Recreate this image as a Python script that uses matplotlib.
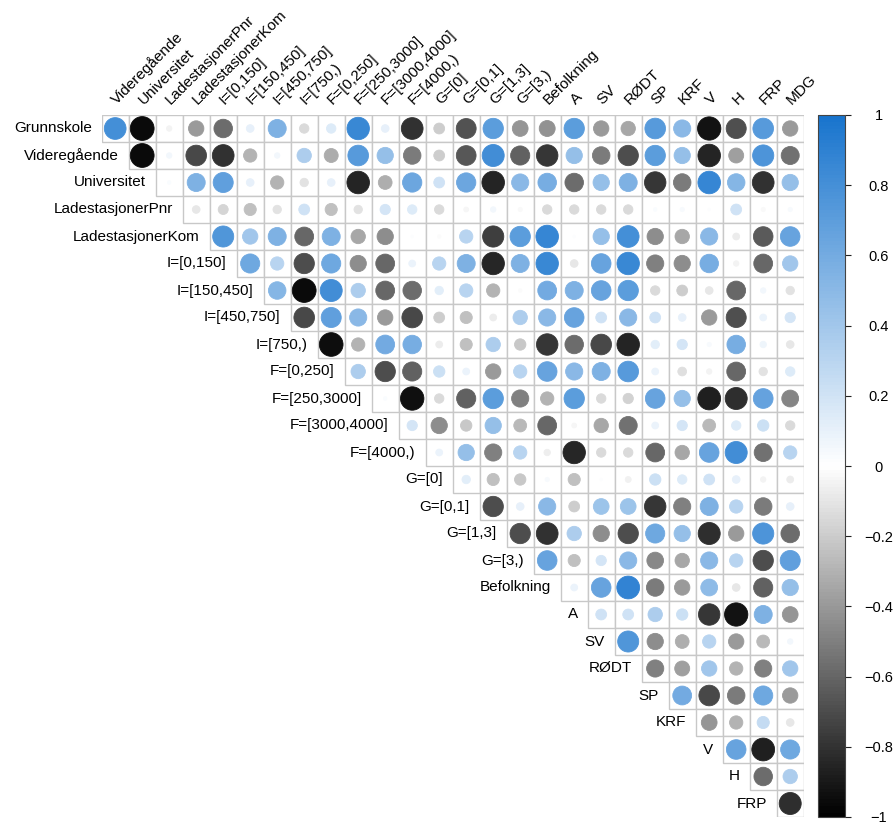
import numpy as np
import matplotlib
matplotlib.use("Agg")
import matplotlib.pyplot as plt
from matplotlib.patches import Circle, Rectangle
from matplotlib.colors import LinearSegmentedColormap, Normalize

plt.rcParams['font.family'] = ['Liberation Sans', 'DejaVu Sans']

variables = ["Grunnskole", "Videregående", "Universitet", "LadestasjonerPnr",
             "LadestasjonerKom", "I=[0,150]", "I=[150,450]", "I=[450,750]",
             "I=[750,)", "F=[0,250]", "F=[250,3000]", "F=[3000,4000]",
             "F=[4000,)", "G=[0]", "G=[0,1]", "G=[1,3]", "G=[3,)", "Befolkning",
             "A", "SV", "RØDT", "SP", "KRF", "V", "H", "FRP", "MDG"]

# Upper-triangle correlations: each row lists r with every later variable
r_grunnskole = [0.80, -0.96, -0.05, -0.40, -0.58, 0.10, 0.55, -0.15, 0.15, 0.85, 0.10, -0.80, -0.20,
                -0.67, 0.70, -0.42, -0.43, 0.70, -0.40, -0.35, 0.72, 0.50, -0.92, -0.68, 0.72, -0.40]
r_videregaende = [-0.96, 0.05, -0.72, -0.80, -0.30, 0.05, 0.35, -0.33, 0.72, 0.45, -0.52, -0.20,
                  -0.66, 0.82, -0.62, -0.78, 0.45, -0.52, -0.70, 0.70, 0.45, -0.86, -0.38, 0.76, -0.55]
r_universitet = [0.02, 0.55, 0.68, 0.10, -0.30, -0.12, 0.10, -0.86, -0.32, 0.63, 0.20, 0.63,
                 -0.86, 0.50, 0.58, -0.58, 0.45, 0.55, -0.78, -0.52, 0.86, 0.52, -0.80, 0.45]
r_ladepnr = [-0.10, -0.17, -0.25, -0.12, 0.20, -0.25, -0.12, 0.18, 0.15, -0.15, -0.04, 0.05,
             -0.03, -0.15, -0.15, -0.15, -0.15, 0.02, 0.03, 0.01, 0.20, -0.03, 0.03]
r_ladekom = [0.75, 0.40, 0.55, -0.60, 0.55, -0.35, -0.45, 0.01, -0.02, 0.30, -0.76, 0.70, 0.86,
             0.01, 0.45, 0.80, -0.45, -0.35, 0.50, -0.08, -0.65, 0.65]
r_i0 = [0.62, 0.30, -0.70, 0.62, -0.45, -0.60, 0.08, 0.30, 0.55, -0.85, 0.55, 0.85, -0.10, 0.65,
        0.85, -0.50, -0.45, 0.58, -0.05, -0.60, 0.40]
r_i150 = [0.52, -0.96, 0.82, 0.35, -0.60, -0.58, 0.12, 0.30, -0.30, -0.02, 0.60, 0.55, 0.65, 0.70,
          -0.15, -0.20, -0.10, -0.60, 0.05, -0.12]
r_i450 = [-0.72, 0.68, 0.50, -0.40, -0.72, -0.20, -0.25, -0.08, 0.35, 0.50, 0.65, 0.20, 0.50,
          0.20, 0.10, -0.40, -0.68, 0.08, 0.18]
r_i750 = [-0.95, -0.30, 0.60, 0.58, -0.08, -0.25, 0.35, -0.22, -0.78, -0.58, -0.72, -0.86, 0.12,
          0.18, 0.03, 0.58, 0.07, -0.10]
r_f0 = [0.35, -0.70, -0.62, 0.22, 0.08, -0.40, 0.30, 0.65, 0.50, 0.55, 0.72, 0.08, -0.13, -0.05,
        -0.60, -0.12, 0.15]
r_f250 = [0.02, -0.93, -0.15, -0.62, 0.70, -0.50, -0.30, 0.70, -0.15, -0.18, 0.65, 0.45, -0.88,
          -0.82, 0.66, -0.48]
r_f3000 = [0.18, -0.45, -0.22, 0.45, -0.28, -0.60, -0.04, -0.35, -0.55, 0.08, 0.18, -0.28, 0.15,
           0.22, -0.15]
r_f4000 = [0.08, 0.45, -0.50, 0.30, -0.07, -0.85, -0.15, -0.15, -0.60, -0.35, 0.65, 0.82, -0.55, 0.30]
r_g0 = [0.12, -0.25, -0.22, 0.03, -0.25, 0.01, -0.06, 0.22, 0.15, 0.20, 0.10, -0.05, -0.08]
r_g01 = [-0.70, 0.10, 0.50, -0.20, 0.42, 0.42, -0.78, -0.50, 0.55, 0.30, -0.52, 0.10]
r_g13 = [-0.70, -0.80, 0.35, -0.45, -0.70, 0.62, 0.45, -0.82, -0.40, 0.76, -0.58]
r_g3 = [0.65, -0.25, 0.18, 0.50, -0.47, -0.35, 0.50, 0.30, -0.70, 0.68]
r_befolkning = [0.08, 0.65, 0.88, -0.52, -0.40, 0.48, -0.10, -0.62, 0.45]
r_a = [0.20, 0.20, 0.35, 0.22, -0.78, -0.92, 0.55, -0.42]
r_sv = [0.75, -0.45, -0.32, 0.30, -0.40, -0.28, 0.05]
r_rodt = [-0.50, -0.38, 0.40, -0.30, -0.50, 0.40]
r_sp = [0.60, -0.72, -0.52, 0.62, -0.40]
r_krf = [-0.42, -0.30, 0.25, -0.10]
r_v = [0.65, -0.88, 0.62]
r_h = [-0.58, 0.35]
r_frp = [-0.82]

rows = [r_grunnskole, r_videregaende, r_universitet, r_ladepnr, r_ladekom, r_i0, r_i150,
        r_i450, r_i750, r_f0, r_f250, r_f3000, r_f4000, r_g0, r_g01, r_g13, r_g3,
        r_befolkning, r_a, r_sv, r_rodt, r_sp, r_krf, r_v, r_h, r_frp]

row_labels = variables[:-1]
col_labels = variables[1:]
n = len(col_labels)

cmap = LinearSegmentedColormap.from_list("bw_blue", ["#000000", "#ffffff", "#1874CD"], N=200)
norm = Normalize(-1, 1)

W, H = 896, 825
fig = plt.figure(figsize=(W / 100, H / 100), dpi=100)

x0, y0, cell = 101.7, 115.0, 27.0
ax = fig.add_axes([x0 / W, (H - (y0 + n * cell)) / H, n * cell / W, n * cell / H])
ax.set_xlim(0, n)
ax.set_ylim(n, 0)
ax.axis("off")

grid_col = "#c8c8c8"
for i, vals in enumerate(rows):
    for k, r in enumerate(vals):
        j = i + k
        ax.add_patch(Rectangle((j, i), 1, 1, facecolor="white", edgecolor=grid_col,
                               linewidth=1.0, zorder=1))
for i, vals in enumerate(rows):
    for k, r in enumerate(vals):
        j = i + k
        c = cmap(norm(r))
        rad = 0.9 * np.sqrt(abs(r)) / 2
        ax.add_patch(Circle((j + 0.5, i + 0.5), rad, facecolor=c, edgecolor=c,
                            linewidth=0.6, zorder=2))

fs = 11
for i, lab in enumerate(row_labels):
    ax.text(i - 0.37, i + 0.5, lab, ha="right", va="center", fontsize=fs, clip_on=False)
for j, lab in enumerate(col_labels):
    ax.text(j + 0.45, -0.48, lab, ha="left", va="center", rotation=45,
            rotation_mode="anchor", fontsize=fs, clip_on=False)

# colour legend
cax = fig.add_axes([818 / W, (H - 817) / H, 27 / W, 702 / H])
sm = matplotlib.cm.ScalarMappable(norm=norm, cmap=cmap)
cb = fig.colorbar(sm, cax=cax)
ticks = np.round(np.arange(-1, 1.01, 0.2), 1)
cb.set_ticks(ticks)
cb.set_ticklabels(["1" if t == 1 else "0" if t == 0 else ("\u22121" if t == -1 else
                   ("\u2212" if t < 0 else "") + f"{abs(t):.1f}") for t in ticks])
cax.tick_params(direction="out", length=4.3, width=0.8, pad=20, labelsize=10.5, color="#222222")
for lbl in cax.get_yticklabels():
    lbl.set_horizontalalignment("center")
cb.outline.set_edgecolor("#444444")
cb.outline.set_linewidth(0.8)

fig.savefig("out.png", dpi=100)
